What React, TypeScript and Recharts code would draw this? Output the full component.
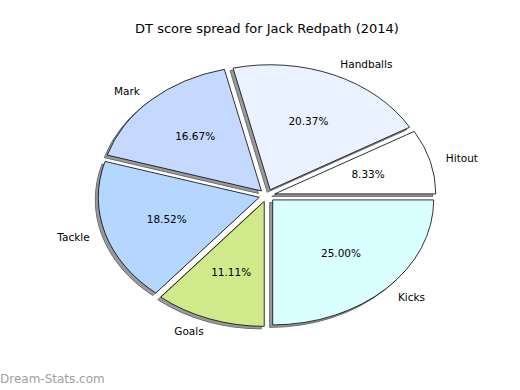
import { PieChart, Pie, Cell } from 'recharts'

// DT points by stat (kicks x3, handballs x2, marks x3, tackles x4, goals x6, hitouts x1)
const categories = ['Hitout', 'Handballs', 'Mark', 'Tackle', 'Goals', 'Kicks']
const dtPoints = [9, 22, 18, 20, 12, 27]
const sliceColors = ['#ffffff', '#eaf2ff', '#c5d8ff', '#b5d6ff', '#d0ea8b', '#d9ffff']

const chartData = categories.map((name, i) => ({ name, value: dtPoints[i] }))

const FONT = '"DejaVu Sans", sans-serif'
const SQUASH = 125 / 161 // matplotlib draws this pie as an ellipse
const EXPLODE = 0.05
const RAD = Math.PI / 180

// centre of the exploded wedge
function wedgeOrigin(p: any) {
    const rx = p.outerRadius
    const ry = rx * SQUASH
    const mid = p.midAngle * RAD
    return {
        rx,
        ry,
        ox: p.cx + EXPLODE * rx * Math.cos(mid),
        oy: p.cy - EXPLODE * ry * Math.sin(mid)
    }
}

function wedgePath(p: any, dx = 0, dy = 0) {
    const { rx, ry, ox: bx, oy: by } = wedgeOrigin(p)
    const ox = bx + dx
    const oy = by + dy
    const a0 = p.startAngle * RAD
    const a1 = p.endAngle * RAD
    const x0 = ox + rx * Math.cos(a0)
    const y0 = oy - ry * Math.sin(a0)
    const x1 = ox + rx * Math.cos(a1)
    const y1 = oy - ry * Math.sin(a1)
    const large = Math.abs(p.endAngle - p.startAngle) > 180 ? 1 : 0
    return `M${ox},${oy} L${x0},${y0} A${rx},${ry} 0 ${large} 0 ${x1},${y1} Z`
}

const ShadowShape = (props: any) => (
    <path d={wedgePath(props, -3, 2.5)} fill="#9a9a9a" stroke="#6e6e6e" strokeWidth={1} />
)

const WedgeShape = (props: any) => (
    <path d={wedgePath(props)} fill={props.fill} stroke="#000" strokeWidth={0.8} strokeLinejoin="round" />
)

const renderLabels = (props: any) => {
    const { rx, ry, ox, oy } = wedgeOrigin(props)
    const mid = props.midAngle * RAD
    const c = Math.cos(mid)
    const s = Math.sin(mid)
    return (
        <g>
            <text
                x={ox + 1.1 * rx * c}
                y={oy - 1.1 * ry * s}
                textAnchor={c > 0 ? 'start' : 'end'}
                dominantBaseline="central"
                fontFamily={FONT}
                fontSize={10.5}
                fill="#000"
            >
                {props.name}
            </text>
            <text
                x={ox + 0.6 * rx * c}
                y={oy - 0.6 * ry * s}
                textAnchor="middle"
                dominantBaseline="central"
                fontFamily={FONT}
                fontSize={10.5}
                fill="#000"
            >
                {(props.percent * 100).toFixed(2)}%
            </text>
        </g>
    )
}

export default function App() {
    return (
        <div style={{ position: 'absolute', left: 0, top: 0, width: 520, height: 390, background: '#fff' }}>
            <div
                style={{
                    position: 'absolute',
                    left: 0,
                    width: 534,
                    top: 21,
                    textAlign: 'center',
                    fontFamily: FONT,
                    fontSize: 13,
                    color: '#000'
                }}
            >
                DT score spread for Jack Redpath (2014)
            </div>
            <PieChart
                width={520}
                height={390}
                margin={{ top: 0, right: 0, bottom: 0, left: 0 }}
                style={{ position: 'absolute', left: 0, top: 0 }}
            >
                <Pie
                    data={chartData}
                    dataKey="value"
                    nameKey="name"
                    cx={267}
                    cy={195.5}
                    outerRadius={161}
                    startAngle={0}
                    endAngle={360}
                    shape={ShadowShape}
                    label={false}
                    labelLine={false}
                    isAnimationActive={false}
                />
                <Pie
                    data={chartData}
                    dataKey="value"
                    nameKey="name"
                    cx={267}
                    cy={195.5}
                    outerRadius={161}
                    startAngle={0}
                    endAngle={360}
                    shape={WedgeShape}
                    label={renderLabels}
                    labelLine={false}
                    isAnimationActive={false}
                >
                    {chartData.map((d, i) => (
                        <Cell key={d.name} fill={sliceColors[i]} />
                    ))}
                </Pie>
            </PieChart>
            <div
                style={{
                    position: 'absolute',
                    left: 0,
                    top: 372,
                    fontFamily: FONT,
                    fontSize: 12,
                    color: '#a0a0a0'
                }}
            >
                Dream-Stats.com
            </div>
        </div>
    )
}
